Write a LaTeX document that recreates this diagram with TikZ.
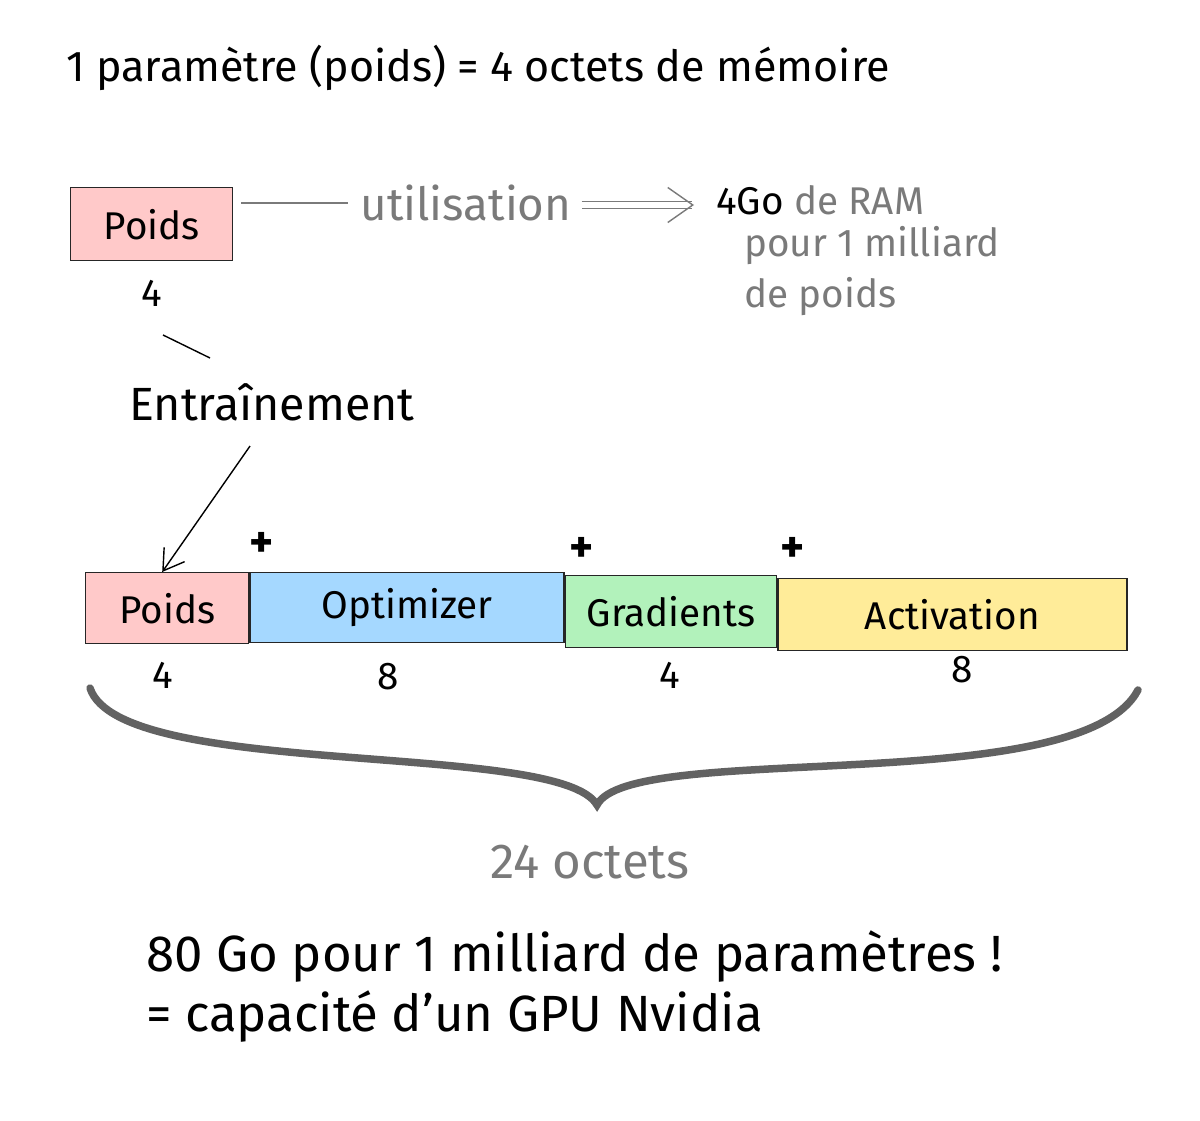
\documentclass[tikz,border=0pt]{standalone}
\usepackage{fontspec}
\setmainfont{Fira Sans}
\usetikzlibrary{positioning, arrows.meta, calc}
\definecolor{pinkbox}{HTML}{FFC9C9}
\definecolor{bluebox}{HTML}{A5D8FF}
\definecolor{greenbox}{HTML}{B2F2BB}
\definecolor{yellowbox}{HTML}{FFEC99}
\definecolor{txtgray}{HTML}{7A7A7A}
\begin{document}
\begin{tikzpicture}[x=0.02cm, y=-0.02cm,
		myline/.style={draw=black!85, thick},
		box/.style={myline, anchor=north west, inner sep=0pt, font=\fontsize{22}{26}\selectfont},
		txt/.style={font=\fontsize{22}{26}\selectfont, inner sep=0pt},
		gtxt/.style={txt, text=txtgray}, >=Stealth]
		
		\useasboundingbox[fill=white] (0,0) rectangle (1200,1121);
		
		\node[txt, anchor=west, font=\fontsize{24.5}{28}\selectfont] (title) at (66,68) {1 paramètre (poids) = 4 octets de mémoire};
		
		% top part
		\node[box, fill=pinkbox, minimum width=162*0.02cm, minimum height=73*0.02cm] (poidsA) at (70,187) {Poids};
		\node[txt] (nA) at (152,293) {4};
		\node[gtxt, font=\fontsize{26}{30}\selectfont] (util) at (466,203) {utilisation};
		\node[txt, anchor=west] (ram) at (716,200) {4Go \textcolor{txtgray}{de RAM}};
		\node[gtxt, anchor=west] (pour) at (744,246) {pour 1 milliard};
		\node[gtxt, anchor=west] (depoids) at (744,297) {de poids};
		\draw[txtgray, thick] (poidsA.north east |- util) ++(8,0) -- ($(util.west)+(-12,0)$);
		\draw[txtgray, thick, -{Straight Barb[length=5mm, width=7mm]}, double, double distance=3pt] (util.east) ++(10,2) -- ($(ram.west)+(-22,5)$);
		
		\node[txt, font=\fontsize{26.5}{30}\selectfont] (entr) at (272,402) {Entraînement};
		\draw[thick] (163,335) -- (210,358);
		
		% bottom bar
		\node[box, fill=pinkbox, minimum width=163*0.02cm, minimum height=71*0.02cm] (poidsB) at (85,572) {Poids};
		\node[box, fill=bluebox, minimum width=314*0.02cm, minimum height=70*0.02cm] (optim) at (poidsB.north east) {Optimizer};
		\node[box, fill=greenbox, minimum width=211*0.02cm, minimum height=72*0.02cm] (grad) at ($(optim.north east)+(0,3)$) {Gradients};
		\node[box, fill=yellowbox, minimum width=349*0.02cm, minimum height=72*0.02cm] (activ) at ($(grad.north east)+(0,3)$) {Activation};
		\draw[thick, -{Straight Barb[length=4mm, width=5mm]}] (entr.south) ++(-22,25) -- ($(poidsB.north)+(-5,0)$);
		
		\foreach \n/\x/\y in {plusA/262/545, plusB/582/550, plusC/793/550}
			\node[txt, font=\bfseries\fontsize{26}{28}\selectfont] (\n) at (\x,\y) {+};
		\foreach \n/\x/\y/\v in {nB/163/675/4, nC/388/677/8, nD/670/675/4, nE/962/670/8}
			\node[txt] (\n) at (\x,\y) {\v};
		
		% brace
		\coordinate (braceL) at (90,688);
		\coordinate (braceM) at (597,805);
		\coordinate (braceR) at (1138,690);
		\draw[txtgray!80!black, line width=1.5mm, line cap=round]
			(braceL) .. controls (120,780) and (560,740) .. (braceM)
			.. controls (630,740) and (1080,800) .. (braceR);
		
		\node[gtxt, font=\fontsize{28}{30}\selectfont] (total) at (590,862) {24 octets};
		\node[txt, anchor=west, font=\fontsize{29}{32}\selectfont] (concl1) at (146,957) {80 Go pour 1 milliard de paramètres !};
		\node[txt, anchor=west, font=\fontsize{29}{32}\selectfont] (concl2) at (146,1017) {= capacité d'un GPU Nvidia};
	\end{tikzpicture}
\end{document}
